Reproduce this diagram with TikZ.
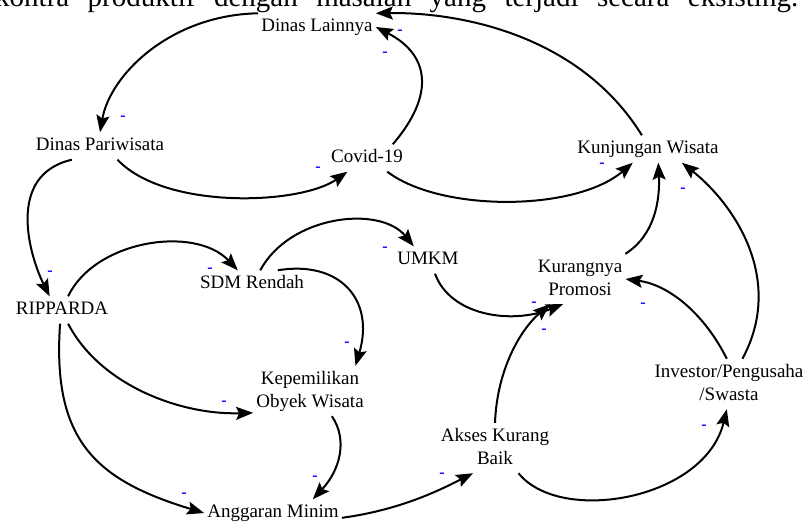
\documentclass[tikz,border=0pt]{standalone}
\usepackage{fontspec}
\setmainfont{Liberation Serif}
\usetikzlibrary{arrows.meta}

\begin{document}
\begin{tikzpicture}[x=1pt,y=-1pt,
		var/.style={font=\fontsize{19}{23}\selectfont, inner xsep=3pt, inner ysep=5pt, align=center, text height=13pt, text depth=4pt},
		vartwo/.style={var, text height=36pt},
		link/.style={-{Stealth[length=17pt,width=13pt,inset=3pt]}, line width=2pt},
		sign/.style={text=blue, font=\fontsize{16}{16}\selectfont\bfseries, inner sep=0pt}]
		\useasboundingbox (0,0) rectangle (805,524);
		\clip (0,0) rectangle (805,524);
		% cut off line of the page text
		\node[anchor=base west, inner sep=0pt, font=\fontsize{29}{30}\selectfont] (pagetext) at (-5,7) {\makebox[803pt][s]{kontra produktif dengan masalah yang terjadi secara eksisting.}};
		% variables
		\node[var] (dl) at (317,27) {Dinas Lainnya};
		\node[var] (dp) at (100,146) {Dinas Pariwisata};
		\node[var] (cv) at (367,158) {Covid-19};
		\node[var] (kw) at (648,149) {Kunjungan Wisata};
		\node[var] (rp) at (62,310) {RIPPARDA};
		\node[var] (sdm) at (252,284) {SDM Rendah};
		\node[var] (umkm) at (428,260) {UMKM};
		\node[vartwo] (kp) at (580,279) {Kurangnya\\Promosi};
		\node[vartwo] (kep) at (310,391) {Kepemilikan\\Obyek Wisata};
		\node[vartwo] (inv) at (729,384) {Investor/Pengusaha\\/Swasta};
		\node[vartwo] (aks) at (495,448) {Akses Kurang\\Baik};
		\node[var] (ang) at (273,513) {Anggaran Minim};
		% causal links
		\draw[link] (kw.114) .. controls (580,35) and (460,12) .. (dl.north east);
		\draw[link] (cv.28) .. controls (435,95) and (430,55) .. (dl.east);
		\draw[link] (dl.north west) .. controls (170,15) and (110,75) .. (dp.north);
		\draw[link] (dp.-38) .. controls (165,210) and (300,205) .. (cv.-145);
		\draw[link] (cv.-34) .. controls (440,212) and (575,212) .. (kw.-138);
		\draw[link] (dp.-154) .. controls (5,175) and (30,257) .. (rp.132);
		\draw[link] (rp.66) .. controls (95,240) and (195,225) .. (sdm.136);
		\draw[link] (sdm.59) .. controls (290,215) and (380,205) .. (umkm.136);
		\draw[link] (sdm.28) .. controls (340,260) and (375,300) .. (kep.29);
		\draw[link] (rp.-66) .. controls (100,385) and (180,415) .. (kep.-159);
		\draw[link] (rp.-98) .. controls (52,440) and (95,480) .. (ang.west);
		\draw[link] (kep.-49) .. controls (348,440) and (340,470) .. (ang.19);
		\draw[link] (ang.-4) .. controls (400,510) and (440,490) .. (aks.-131);
		\draw[link] (umkm.-63) .. controls (450,315) and (510,325) .. (kp.-124);
		\draw[link] (aks.north) .. controls (497,370) and (520,330) .. (kp.-140);
		\draw[link] (kp.north east) .. controls (655,235) and (660,200) .. (kw.-53);
		\draw[link] (inv.95) .. controls (705,315) and (670,285) .. (kp.east);
		\draw[link] (inv.62) .. controls (785,280) and (735,205) .. (kw.-22);
		\draw[link] (aks.-47) .. controls (560,525) and (705,500) .. (inv.265);
		% polarity signs
		\foreach \x/\y [count=\i] in {400/32, 385/54, 123/118, 318/169, 602/165, 50/273, 210/270, 385/249, 347/344, 224/403, 184/495, 315/478, 442/475, 534/304, 544/331, 643/305, 683/190, 704/427}
			\node[sign] (pol\i) at (\x,\y) {-};
\end{tikzpicture}
\end{document}
